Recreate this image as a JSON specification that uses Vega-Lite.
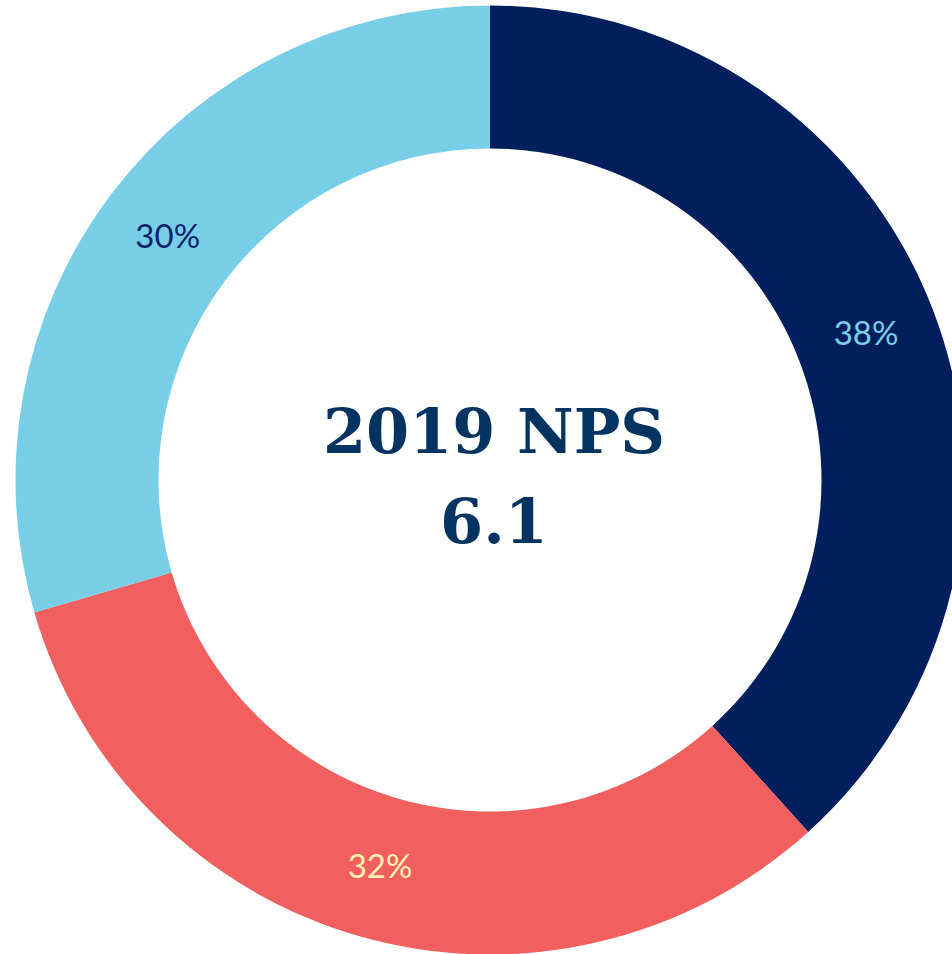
{
  "$schema": "https://vega.github.io/schema/vega-lite/v6.json",
  "width": 924,
  "height": 948,
  "autosize": {"type": "none"},
  "padding": {"left": 28, "top": 6, "right": 0, "bottom": 0},
  "background": "white",
  "view": {"stroke": null},
  "data": {
    "values": [
      {"group": "A", "order": 1, "value": 38.3, "label": "38%", "labelColor": "l1"},
      {"group": "B", "order": 2, "value": 32.2, "label": "32%", "labelColor": "l2"},
      {"group": "C", "order": 3, "value": 29.5, "label": "30%", "labelColor": "l3"}
    ]
  },
  "layer": [
    {
      "mark": {"type": "arc", "outerRadius": 474.5, "innerRadius": 331.5},
      "encoding": {
        "theta": {"field": "value", "type": "quantitative", "stack": true},
        "order": {"field": "order", "type": "quantitative"},
        "color": {
          "field": "group",
          "type": "nominal",
          "scale": {"domain": ["A", "B", "C"], "range": ["#021F5D", "#F15F5F", "#77CEE6"]},
          "legend": null
        }
      }
    },
    {
      "mark": {"type": "text", "radius": 403, "font": "Lato", "fontSize": 33, "align": "center", "baseline": "middle"},
      "encoding": {
        "theta": {"field": "value", "type": "quantitative", "stack": true},
        "order": {"field": "order", "type": "quantitative"},
        "text": {"field": "label"},
        "fill": {
          "field": "labelColor",
          "type": "nominal",
          "scale": {"domain": ["l1", "l2", "l3"], "range": ["#7CCDE5", "#FFF1B0", "#0B2467"]},
          "legend": null
        }
      }
    },
    {
      "data": {"values": [{"title": "2019 NPS\n6.1"}]},
      "mark": {
        "type": "text",
        "font": "DejaVu Serif",
        "fontWeight": "bold",
        "fontSize": 62,
        "align": "center",
        "baseline": "alphabetic",
        "lineBreak": "\n",
        "lineHeight": 90,
        "dx": 4,
        "dy": -27,
        "color": "#023361"
      },
      "encoding": {
        "text": {"field": "title"}
      }
    }
  ]
}
